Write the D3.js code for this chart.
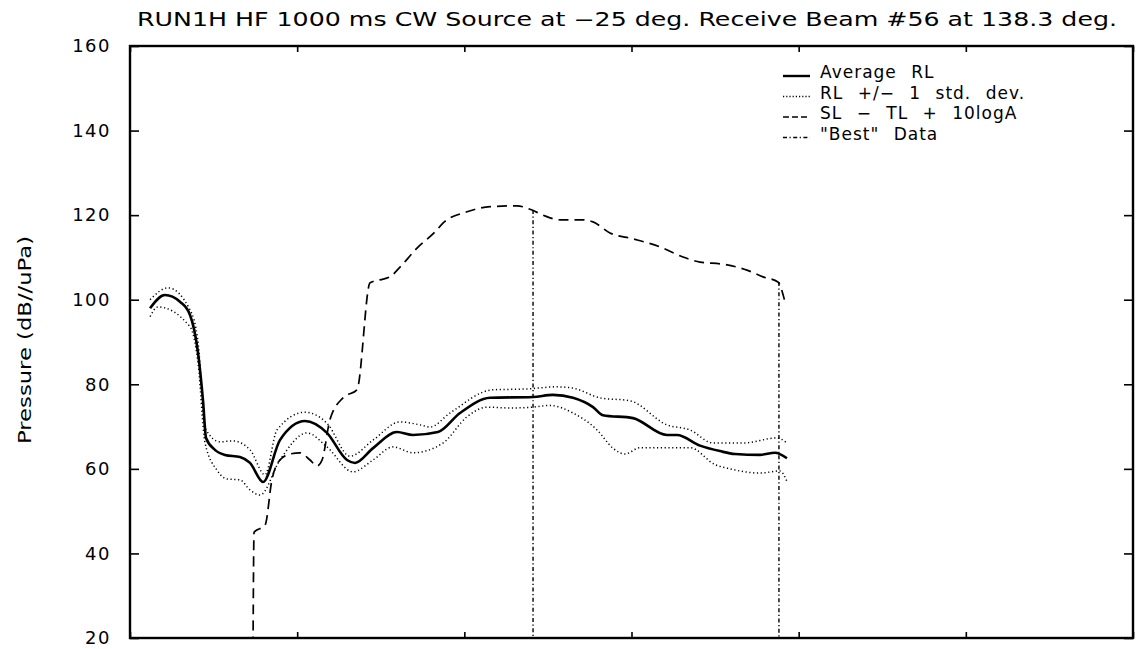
<!DOCTYPE html>
<html lang="en">
<head>
	<meta charset="UTF-8" />
	<script src="https://d3js.org/d3.v7.min.js"></script>
	<style type="text/css">
		body { margin: 0; background: #fff; }
		text { font-family: "DejaVu Sans", sans-serif; fill: #000; }
	</style>
	<title>RUN1H HF</title>
</head>
<body>
<script type="text/javascript">
	// Chart data (x in tick intervals, y in dB)
	var yTicks = [20, 40, 60, 80, 100, 120, 140, 160];
	var xTicks = [0, 1, 2, 3, 4, 5, 6];

	var avgX = [0.120, 0.209, 0.299, 0.359, 0.407, 0.437, 0.455, 0.508, 0.568, 0.658, 0.718, 0.796, 0.897, 1.047, 1.178, 1.298, 1.346, 1.454, 1.597, 1.693, 1.842, 1.974, 2.154, 2.411, 2.530, 2.650, 2.770, 2.829, 3.009, 3.212, 3.272, 3.410, 3.529, 3.619, 3.769, 3.858, 3.930];
	var avgY = [98.0, 101.1, 99.5, 96.4, 87.4, 76.0, 67.3, 64.5, 63.3, 62.8, 61.4, 56.9, 66.8, 71.3, 68.5, 62.1, 61.4, 64.9, 68.7, 68.0, 68.7, 73.2, 76.8, 77.0, 77.5, 76.8, 74.6, 72.7, 72.0, 68.0, 68.0, 65.5, 64.2, 63.5, 63.3, 63.8, 62.5];

	var upX = [0.120, 0.227, 0.359, 0.407, 0.449, 0.538, 0.616, 0.718, 0.808, 0.879, 1.047, 1.178, 1.316, 1.454, 1.615, 1.735, 1.795, 1.914, 2.171, 2.375, 2.554, 2.650, 2.811, 2.991, 3.212, 3.350, 3.488, 3.667, 3.870, 3.930];
	var upY = [100.0, 102.8, 97.6, 90.0, 69.7, 66.4, 66.6, 64.5, 58.6, 69.2, 73.4, 70.8, 63.0, 66.8, 71.1, 70.4, 69.9, 73.2, 78.7, 78.9, 79.4, 79.1, 76.8, 76.1, 70.4, 69.2, 66.1, 66.1, 67.3, 66.1];

	var loX = [0.120, 0.167, 0.359, 0.407, 0.449, 0.520, 0.580, 0.658, 0.718, 0.778, 0.897, 1.059, 1.178, 1.334, 1.454, 1.573, 1.693, 1.872, 2.016, 2.136, 2.273, 2.411, 2.512, 2.650, 2.794, 2.889, 2.961, 3.051, 3.350, 3.500, 3.589, 3.769, 3.888, 3.930];
	var loY = [96.0, 98.3, 93.6, 85.0, 66.1, 59.7, 57.6, 57.4, 55.0, 53.8, 62.1, 68.5, 65.2, 59.3, 62.1, 65.2, 63.8, 66.1, 72.3, 74.6, 74.4, 74.6, 75.0, 73.2, 69.2, 64.9, 63.5, 65.0, 65.0, 61.0, 60.0, 59.0, 59.5, 57.0];

	var slX = [0.736, 0.742, 0.808, 0.849, 0.897, 0.957, 1.017, 1.077, 1.119, 1.149, 1.196, 1.274, 1.358, 1.436, 1.495, 1.555, 1.615, 1.717, 1.824, 1.872, 2.016, 2.154, 2.315, 2.405, 2.471, 2.572, 2.710, 2.770, 2.871, 3.009, 3.170, 3.308, 3.410, 3.547, 3.691, 3.787, 3.876, 3.918];
	var slY = [18.0, 45.0, 46.7, 57.4, 62.1, 63.5, 63.8, 62.1, 60.7, 62.1, 71.6, 76.8, 78.7, 104.0, 104.7, 105.4, 107.7, 112.2, 116.0, 118.1, 120.8, 122.0, 122.2, 121.2, 120.0, 118.9, 118.9, 118.4, 115.8, 114.4, 112.5, 110.1, 108.9, 108.4, 107.0, 105.4, 104.2, 99.5];

	var bestX = [2.411, 3.882];
	var bestTop = [121.2, 104.2];

	var legendLabels = ["Average RL", "RL +/\u2212 1 std. dev.", "SL \u2212 TL + 10logA", "\"Best\" Data"];
	var legendDash = ["none", "1.2,2", "6,3", "4,2.5,1.2,2.5"];
	var legendWidth = [2.4, 1.4, 1.6, 1.4];

	// Dimensions
	var margin = {top: 46, right: 5, bottom: 11, left: 130},
	    w = 1138 - margin.left - margin.right,
	    h = 649 - margin.top - margin.bottom;

	var xScale = d3.scaleLinear().domain([0, 6]).range([0, w]);
	var yScale = d3.scaleLinear().domain([20, 160]).range([h, 0]);

	var root = d3.select("body").append("svg")
	    .attr("width", 1138)
	    .attr("height", 649);

	var svg = root.append("g")
	    .attr("transform", "translate(" + margin.left + "," + margin.top + ")");

	svg.append("clipPath").attr("id", "plotclip")
	   .append("rect").attr("width", w).attr("height", h);

	// Title
	root.append("text")
	    .attr("x", 137)
	    .attr("y", 26)
	    .attr("font-size", "19px")
	    .attr("textLength", 980)
	    .attr("lengthAdjust", "spacingAndGlyphs")
	    .text("RUN1H HF 1000 ms CW Source at \u221225 deg. Receive Beam #56 at 138.3 deg.");

	// Axes (ticks point inward)
	svg.append("g")
	   .attr("class", "y_axis")
	   .call(d3.axisLeft(yScale).tickValues(yTicks).tickSize(-9).tickPadding(19).tickFormat(d3.format("d")));
	svg.append("g")
	   .attr("transform", "translate(" + w + ",0)")
	   .call(d3.axisRight(yScale).tickValues(yTicks).tickSize(-9).tickFormat(""));
	svg.append("g")
	   .attr("transform", "translate(0," + h + ")")
	   .call(d3.axisBottom(xScale).tickValues(xTicks).tickSize(-6).tickFormat(""));
	svg.append("g")
	   .call(d3.axisTop(xScale).tickValues(xTicks).tickSize(-6).tickFormat(""));

	svg.selectAll(".domain").remove();
	svg.selectAll(".tick line").attr("stroke", "#000").attr("stroke-width", 1.6);
	svg.selectAll(".y_axis .tick text")
	   .attr("font-size", "18px")
	   .attr("letter-spacing", "1.5px")
	   .attr("fill", "#000");

	// Frame
	svg.append("rect")
	   .attr("width", w)
	   .attr("height", h)
	   .attr("fill", "none")
	   .attr("stroke", "#000")
	   .attr("stroke-width", 2.4);

	// Y label
	root.append("text")
	    .attr("transform", "translate(31,340) rotate(-90)")
	    .attr("text-anchor", "middle")
	    .attr("font-size", "18px")
	    .attr("textLength", 208)
	    .attr("lengthAdjust", "spacingAndGlyphs")
	    .text("Pressure (dB//uPa)");

	function toPts(xs, ys) {
		return xs.map(function(d, i) { return [d, ys[i]]; });
	}

	var line = d3.line()
	    .x(function(d) { return xScale(d[0]); })
	    .y(function(d) { return yScale(d[1]); })
	    .curve(d3.curveMonotoneX);

	var plot = svg.append("g").attr("clip-path", "url(#plotclip)");

	// "Best" data verticals
	plot.selectAll(".best")
	    .data(bestX)
	    .enter()
	    .append("line")
	    .attr("x1", function(d) { return xScale(d); })
	    .attr("x2", function(d) { return xScale(d); })
	    .attr("y1", function(d, i) { return yScale(bestTop[i]); })
	    .attr("y2", yScale(20))
	    .attr("stroke", "#000")
	    .attr("stroke-width", 1.4)
	    .attr("stroke-dasharray", legendDash[3]);

	// SL - TL + 10logA
	plot.append("path")
	    .attr("d", line(toPts(slX, slY)))
	    .attr("fill", "none")
	    .attr("stroke", "#000")
	    .attr("stroke-width", 1.7)
	    .attr("stroke-dasharray", "10,6");

	// +/- 1 std dev
	[toPts(upX, upY), toPts(loX, loY)].forEach(function(p) {
		plot.append("path")
		    .attr("d", line(p))
		    .attr("fill", "none")
		    .attr("stroke", "#000")
		    .attr("stroke-width", 1.5)
		    .attr("stroke-dasharray", "1.2,2.6");
	});

	// Average RL
	plot.append("path")
	    .attr("d", line(toPts(avgX, avgY)))
	    .attr("fill", "none")
	    .attr("stroke", "#000")
	    .attr("stroke-width", 2.6);

	// Legend
	var legend = root.append("g").attr("transform", "translate(783,78)");
	legendLabels.forEach(function(lab, i) {
		var row = legend.append("g").attr("transform", "translate(0," + (i * 20.5) + ")");
		row.append("line")
		   .attr("x1", 0).attr("x2", 27)
		   .attr("y1", -2).attr("y2", -2)
		   .attr("stroke", "#000")
		   .attr("stroke-width", legendWidth[i])
		   .attr("stroke-dasharray", legendDash[i]);
		row.append("text")
		   .attr("x", 37)
		   .attr("font-size", "17px")
		   .attr("letter-spacing", "1px")
		   .attr("word-spacing", "8px")
		   .text(lab);
	});
</script>
</body>
</html>
